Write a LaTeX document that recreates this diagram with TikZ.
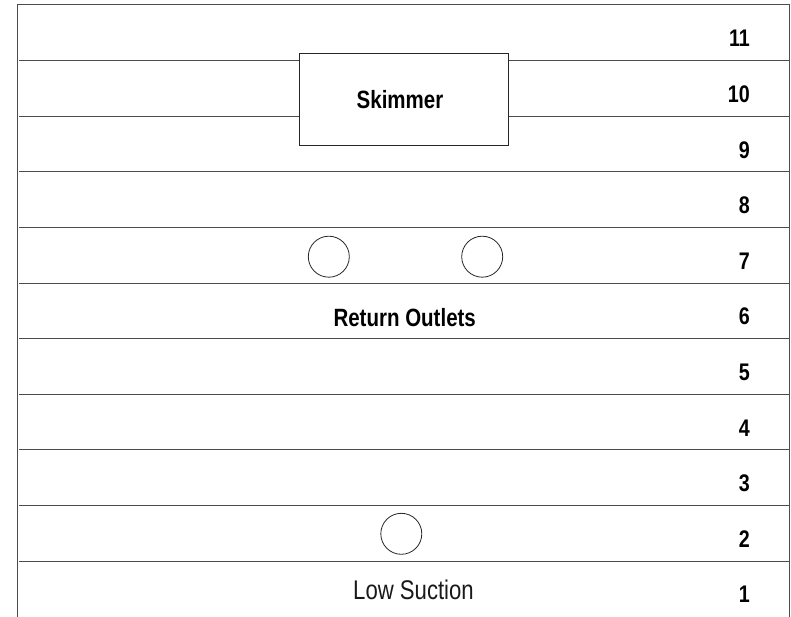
\documentclass[tikz,border=0pt]{standalone}
\usepackage{fontspec}
\setmainfont{Liberation Sans}
\newfontfamily\labelbf{Liberation Sans}[FakeStretch=0.82]
\newfontfamily\labelrg{Liberation Sans}[FakeStretch=0.82]
\begin{document}
\begin{tikzpicture}[x=1pt,y=-1pt,
  rule/.style={draw=black!70, line width=1pt},
  lbl/.style={font=\labelbf\bfseries\fontsize{25}{27}\selectfont, inner sep=0, anchor=base},
  num/.style={font=\labelbf\bfseries\fontsize{24}{26}\selectfont, inner sep=0, anchor=base east},
  plain/.style={font=\labelrg\fontsize{27}{29}\selectfont, inner sep=0, anchor=base, text=black!90},
  port/.style={circle, draw=black!85, line width=0.8pt, minimum size=41pt, inner sep=0},
  skimbox/.style={draw=black!85, line width=1pt, minimum width=209pt, minimum height=92.4pt, inner sep=0}]
\useasboundingbox (0,0) rectangle (791,617);
% frame
\coordinate (tl) at (17,5);
\coordinate (tr) at (789,5);
\coordinate (bl) at (17,617);
\coordinate (br) at (789,617);
\draw[rule] (bl) -- (tl) -- (tr) -- (br);
% skimmer box
\node[skimbox] (skim) at (403.8,99.5) {};
\node[lbl] (skimtxt) at (400,108.5) {Skimmer};
% row lines crossing the box
\foreach \y/\n in {60.7/a,116.2/b}{
  \coordinate (L\n) at (19,\y);
  \coordinate (R\n) at (790,\y);
  \draw[rule] (L\n) -- (L\n -| skim.west);
  \draw[rule] (L\n -| skim.east) -- (R\n);
}
% full row lines
\foreach \y [count=\i] in {171.8,227.5,283.1,338.7,394.3,449.9,505.5,561.1}{
  \coordinate (FL\i) at (19,\y);
  \coordinate (FR\i) at (790,\y);
  \draw[rule] (FL\i) -- (FR\i);
}
% row numbers
\foreach \k in {1,...,11}{
  \pgfmathsetmacro{\yy}{32.9+(11-\k)*55.6+14}
  \node[num] (n\k) at (750,\yy) {\k};
}
% return outlets
\node[port] (ro1) at (328.8,256.7) {};
\node[port] (ro2) at (482.2,256.7) {};
\node[lbl] (rotxt) at (404.7,326) {Return Outlets};
% low suction
\node[port] (ls) at (401.3,533.8) {};
\node[plain] (lstxt) at (413.5,599.3) {Low Suction};
\end{tikzpicture}
\end{document}
